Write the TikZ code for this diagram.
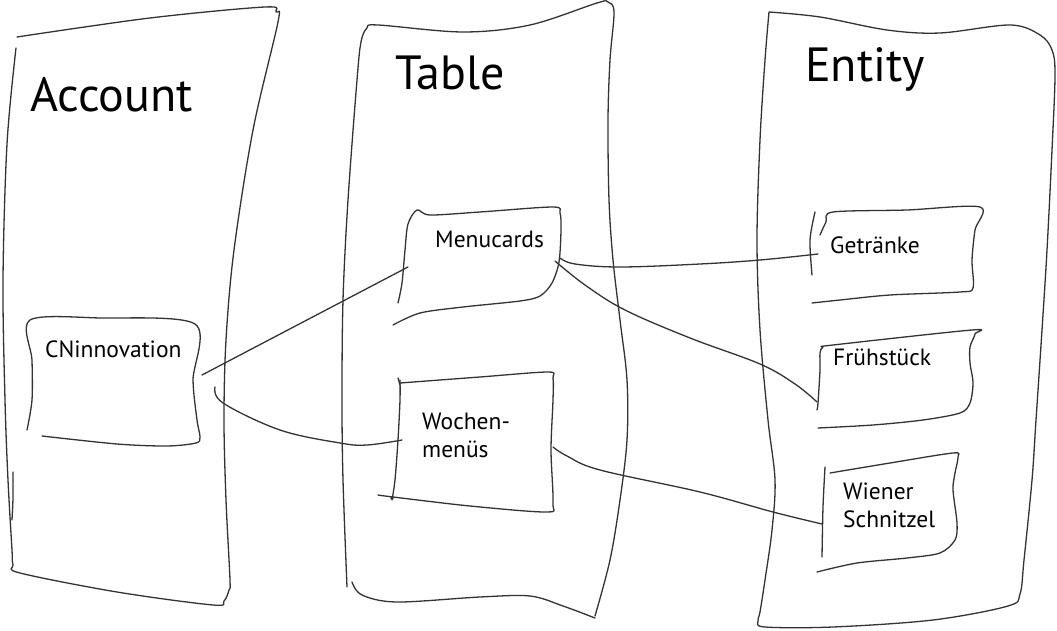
\documentclass[tikz,border=0pt]{standalone}
\usepackage{fontspec}
\setmainfont{PT Sans}
\begin{document}
\begin{tikzpicture}[x=1pt,y=-1pt,
  pen/.style={line width=1.3pt, draw=black!80, line cap=round, line join=round},
  heading/.style={font=\fontsize{48}{50}\selectfont, inner sep=0pt, anchor=base west},
  itemtext/.style={font=\fontsize{23.5}{28}\selectfont, inner sep=0pt, anchor=base west, align=left},
  link/.style={pen}]
\useasboundingbox (0,0) rectangle (1057,631);

% ---------- Account column ----------
\draw[pen] plot[smooth, tension=0.55] coordinates {
  (16,48) (7,144) (3,280) (5,400) (8,480) (12,550) (13,565) (20,573)
  (117,592) (213,605) (224,601) (229,590) (230,580) (226,500)
  (224,420) (226,340) (234,250) (253,130) (278,22) (276,12)
  (265,7) (150,18) (17,37)};
\draw[pen] plot[smooth] coordinates {(13,472) (13,498) (12,520)};
\node[heading] (account) at (30,112) {Account};

% CNinnovation box
\draw[pen] plot[smooth, tension=0.5] coordinates {
  (27,430) (32,400) (32,360) (30,320) (100,318) (195,324) (193,380)
  (197,420) (200,437) (196,443) (167,446) (117,444) (42,436)};
\node[itemtext] (cn) at (45,357) {CNinnovation};

% ---------- Table column ----------
\draw[pen] plot[smooth, tension=0.55] coordinates {
  (347,587) (343,480) (342,400) (343,300) (348,200) (357,80) (361,42)
  (367,28) (378,25) (463,32) (530,25) (597,3) (608,2) (614,12)
  (610,60) (608,120) (609,200) (613,260) (620,320) (627,380) (627,440)
  (620,500) (610,560) (595,616)};
\draw[pen] plot[smooth, tension=0.55] coordinates {
  (595,618) (563,606) (530,596) (480,597) (397,602) (362,595) (352,582)};
\node[heading] (table) at (395,90) {Table};

% Menucards box
\draw[pen] plot[smooth, tension=0.5] coordinates {
  (398,303) (402,283) (405,250) (408,224) (417,210) (430,215) (480,212)
  (553,207) (560,213) (561,230) (559,262) (552,283) (540,296) (520,301)
  (463,307) (420,313) (393,325)};
\node[itemtext] (menu) at (435,247) {Menucards};

% Wochenmenüs box
\draw[pen] (398,378) -- (400,385);
\draw[pen] plot[smooth, tension=0.5] coordinates {
  (400,383) (480,377) (548,372) (553,378) (553,400) (551,450) (553,503)
  (547,512) (470,506) (393,497) (378,495)};
\draw[pen] plot[smooth] coordinates {(400,380) (400,400) (398,440) (395,480) (392,500)};
\fill[black!80] (392,498) circle (1.8);
\node[itemtext] (woche) at (422,457) {Wochen-\\menüs};

% ---------- Entity column ----------
\draw[pen] plot[smooth, tension=0.55] coordinates {
  (769,12) (765,60) (760,140) (757,240) (760,330) (768,420) (775,480)
  (772,530) (765,580) (760,612) (758,621) (765,627) (833,627) (933,620)
  (1008,606) (1020,594) (1024,560) (1032,480) (1036,420) (1042,330)
  (1047,250) (1052,150) (1055,75) (1052,50) (1040,35) (1010,25) (940,33)
  (887,30) (820,17) (769,12)};
\node[heading] (entity) at (805,82) {Entity};

% Getränke box
\draw[pen] plot[smooth] coordinates {(815,212) (810,240) (812,275)};
\draw[pen] plot[smooth, tension=0.5] coordinates {
  (820,235) (826,222) (833,212) (907,210) (980,207) (975,230) (972,260)
  (973,288) (960,292) (890,295) (840,300) (812,303)};
\node[itemtext] (drinks) at (830,253) {Getränke};

% Frühstück box
\draw[pen] plot[smooth, tension=0.5] coordinates {
  (817,410) (818,403) (820,370) (820,353) (823,347) (833,345) (972,330)
  (975,334) (970,347) (970,363) (973,383) (970,403) (960,413) (923,420)
  (873,425) (818,428)};
\node[itemtext] (breakfast) at (833,365) {Frühstück};

% Wiener Schnitzel box
\draw[pen] plot[smooth] coordinates {(825,467) (823,507) (822,557)};
\draw[pen] plot[smooth, tension=0.5] coordinates {
  (830,473) (890,463) (953,453) (958,457) (955,473) (953,490) (957,523)
  (955,540) (940,553) (907,558) (857,563) (817,572)};
\node[itemtext] (schnitzel) at (843,527) {Wiener\\Schnitzel};

% ---------- connectors ----------
\coordinate (cn-a) at (202,375);
\coordinate (cn-b) at (215,387);
\coordinate (menu-a) at (408,267);
\coordinate (menu-b) at (560,258);
\coordinate (menu-c) at (555,261);
\coordinate (woche-a) at (402,440);
\coordinate (woche-b) at (553,447);
\coordinate (drinks-a) at (818,254);
\coordinate (breakfast-a) at (817,402);
\coordinate (schnitzel-a) at (822,524);

\draw[link] (cn-a) -- (menu-a);
\draw[link] plot[smooth, tension=0.6] coordinates {
  (cn-b) (223,403) (280,430) (340,443) (367,445) (woche-a)};
\draw[link] plot[smooth, tension=0.6] coordinates {
  (menu-b) (575,264) (620,267) (700,264) (760,260) (drinks-a)};
\draw[link] plot[smooth, tension=0.6] coordinates {
  (menu-c) (585,285) (625,310) (690,338) (760,364) (795,384) (breakfast-a)};
\draw[link] plot[smooth, tension=0.6] coordinates {
  (woche-b) (567,456) (600,470) (700,492) (773,512) (schnitzel-a)};
\end{tikzpicture}
\end{document}
